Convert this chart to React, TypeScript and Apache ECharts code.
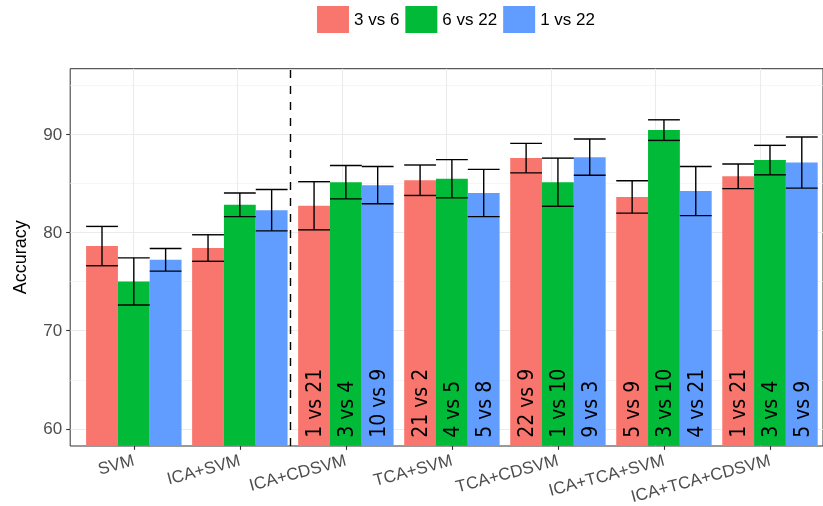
import React, { useEffect, useRef } from 'react';
import * as echarts from 'echarts';

const categories = ['SVM', 'ICA+SVM', 'ICA+CDSVM', 'TCA+SVM', 'TCA+CDSVM', 'ICA+TCA+SVM', 'ICA+TCA+CDSVM'];
const seriesNames = ['3 vs 6', '6 vs 22', '1 vs 22'];
const colors = ['#F8766D', '#00BA38', '#619CFF'];

const values36 = [78.6, 78.4, 82.7, 85.3, 87.55, 83.6, 85.7];
const errors36 = [2.0, 1.35, 2.45, 1.55, 1.5, 1.65, 1.25];
const labels36 = ['', '', '1 vs 21', '21 vs 2', '22 vs 9', '5 vs 9', '1 vs 21'];

const values622 = [75.0, 82.8, 85.1, 85.45, 85.1, 90.4, 87.35];
const errors622 = [2.4, 1.2, 1.7, 1.95, 2.45, 1.05, 1.5];
const labels622 = ['', '', '3 vs 4', '4 vs 5', '1 vs 10', '3 vs 10', '3 vs 4'];

const values122 = [77.2, 82.25, 84.8, 84.0, 87.65, 84.2, 87.1];
const errors122 = [1.15, 2.1, 1.9, 2.4, 1.85, 2.5, 2.6];
const labels122 = ['', '', '10 vs 9', '5 vs 8', '9 vs 3', '4 vs 21', '5 vs 9'];

const majorYTicks = [60, 70, 80, 90];
const minorYLines = [65, 75, 85, 95];
const dividerAfterCategory = 2; // dashed line between ICA+SVM and ICA+CDSVM

const Y_MIN = 58.27;
const Y_MAX = 96.65;

const allValues = [values36, values622, values122];
const allErrors = [errors36, errors622, errors122];
const allLabels = [labels36, labels622, labels122];

export default function App() {
  const ref = useRef<HTMLDivElement>(null);
  useEffect(() => {
    if (!ref.current) return;
    const chart = echarts.init(ref.current, null, { renderer: 'svg' });
    const font = 'Liberation Sans, Arial, sans-serif';

    const barSeries = seriesNames.map((name, k) => ({
      name,
      type: 'bar',
      xAxisIndex: 0,
      yAxisIndex: 0,
      data: allValues[k],
      barGap: '0%',
      barCategoryGap: '10%',
      itemStyle: { color: colors[k] },
      z: 3,
      label: {
        show: true,
        position: 'insideBottom',
        rotate: 90,
        align: 'left',
        verticalAlign: 'middle',
        distance: 8,
        color: '#000',
        fontSize: 21,
        fontFamily: '"DejaVu Sans Condensed", "DejaVu Sans", sans-serif',
        formatter: (p: any) => allLabels[k][p.dataIndex],
      },
    }));

    const errSeries = seriesNames.map((name, k) => ({
      type: 'custom',
      xAxisIndex: 0,
      yAxisIndex: 0,
      z: 6,
      silent: true,
      data: allValues[k].map((v, i) => [i, v, allErrors[k][i]]),
      encode: { x: 0, y: 1 },
      renderItem: (params: any, api: any) => {
        const i = api.value(0);
        const v = api.value(1);
        const e = api.value(2);
        const band = api.size([1, 0])[0];
        const bw = band * 0.3;
        const c = api.coord([i, v]);
        const x = c[0] + (k - 1) * bw;
        const yt = api.coord([i, v + e])[1];
        const yb = api.coord([i, v - e])[1];
        const style = { stroke: '#000', lineWidth: 1.4 };
        return {
          type: 'group',
          children: [
            { type: 'line', shape: { x1: x, y1: yt, x2: x, y2: yb }, style },
            { type: 'line', shape: { x1: x - bw / 2, y1: yt, x2: x + bw / 2, y2: yt }, style },
            { type: 'line', shape: { x1: x - bw / 2, y1: yb, x2: x + bw / 2, y2: yb }, style },
          ],
        };
      },
    }));

    const gridLineSeries = {
      type: 'scatter',
      xAxisIndex: 1,
      yAxisIndex: 1,
      data: [[1, 60]],
      symbolSize: 0,
      silent: true,
      z: 1,
      markLine: {
        silent: true,
        z: 1,
        symbol: ['none', 'none'],
        label: { show: false },
        animation: false,
        data: [
          ...minorYLines.map((y) => ({ yAxis: y, lineStyle: { color: '#F2F2F2', width: 0.7, type: 'solid' } })),
          ...categories.map((_, i) => ({ xAxis: i + 1, lineStyle: { color: '#EBEBEB', width: 1.1, type: 'solid' } })),
        ],
      },
    };

    const dividerSeries = {
      type: 'scatter',
      xAxisIndex: 1,
      yAxisIndex: 1,
      data: [[1, 60]],
      symbolSize: 0,
      silent: true,
      z: 4,
      markLine: {
        silent: true,
        z: 4,
        symbol: ['none', 'none'],
        label: { show: false },
        animation: false,
        data: [{ xAxis: dividerAfterCategory + 0.5, lineStyle: { color: '#000', width: 1.4, type: [8, 8] } }],
      },
    };

    chart.setOption({
      animation: false,
      legend: {
        data: seriesNames,
        left: 312,
        top: 1,
        itemWidth: 32,
        itemHeight: 27,
        itemGap: 6,
        icon: 'rect',
        textStyle: { fontSize: 17, color: '#000', fontFamily: font },
      },
      grid: [
        { left: 80.8, right: -2.5, top: 68.7, bottom: 60 },
        { left: 70.2, right: -13.1, top: 68.7, bottom: 60, show: true, borderColor: '#333333', borderWidth: 1, backgroundColor: 'transparent' },
      ],
      xAxis: [
        {
          type: 'category',
          gridIndex: 0,
          data: categories,
          axisLine: { show: false },
          axisTick: { show: true, alignWithLabel: true, length: 4, lineStyle: { color: '#333333', width: 1.1 } },
          axisLabel: { rotate: 15, margin: 14, fontSize: 17, color: '#4D4D4D', fontFamily: font, interval: 0 },
          splitLine: { show: false },
        },
        { type: 'value', gridIndex: 1, min: 0.4, max: 7.6, show: false },
      ],
      yAxis: [
        { type: 'value', gridIndex: 0, min: Y_MIN, max: Y_MAX, startValue: Y_MIN, show: false },
        {
          type: 'value',
          gridIndex: 1,
          min: Y_MIN,
          max: Y_MAX,
          splitNumber: 4,
          name: 'Accuracy',
          nameLocation: 'middle',
          nameGap: 41,
          nameTextStyle: { fontSize: 18, color: '#000', fontFamily: font },
          axisLine: { show: false },
          axisTick: { show: true, length: 4, customValues: majorYTicks, lineStyle: { color: '#333333', width: 1.1 } },
          axisLabel: { fontSize: 17, color: '#4D4D4D', margin: 8, fontFamily: font, customValues: majorYTicks },
          splitLine: { show: true, lineStyle: { color: '#EBEBEB', width: 1.1 } },
        },
      ],
      series: [gridLineSeries, ...barSeries, ...errSeries, dividerSeries],
    });
    return () => chart.dispose();
  }, []);
  return <div ref={ref} style={{ position: 'fixed', left: 0, top: 0, width: 823, height: 506 }} />;
}
